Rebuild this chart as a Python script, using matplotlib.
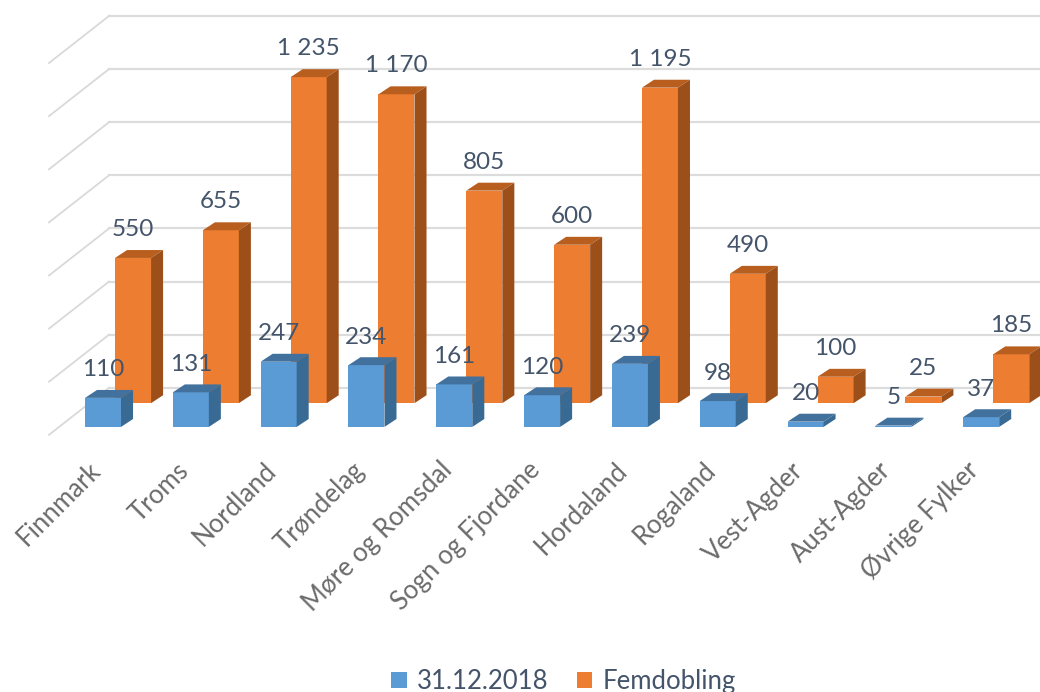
import numpy as np
import matplotlib
matplotlib.use("Agg")
import matplotlib.pyplot as plt

fylker = ["Finnmark", "Troms", "Nordland", "Trøndelag", "Møre og Romsdal", "Sogn og Fjordane",
          "Hordaland", "Rogaland", "Vest-Agder", "Aust-Agder", "Øvrige Fylker"]
dagens = [110, 131, 247, 234, 161, 120, 239, 98, 20, 5, 37]
femdobling = [550, 655, 1235, 1170, 805, 600, 1195, 490, 100, 25, 185]
grid_ticks = [0, 200, 400, 600, 800, 1000, 1200, 1400]

plt.rcParams['font.family'] = ['Lato', 'DejaVu Sans']
TEXT = '#44546a'
LABEL = '#6b6b6b'

fig = plt.figure(figsize=(10.4, 6.92), dpi=100)
ax = fig.add_axes([0, 0, 1, 1])
# axes fills the figure, x = category number, y = value
ax.set_xlim(-1.173, 10.67)
ax.set_ylim(-1004, 1617)
ax.axis('off')

width = 0.41
dx, dy = 0.137, 30          # depth of a bar
back_x, back_y = 0.342, 90  # second row sits behind the first
wall_x, wall_y = 0.068, 148 # back wall, left corner

def fmt(v):
    return f"{v:,}".replace(",", " ")

def draw_row(x, vals, base, front, top, side, zorder):
    bars = ax.bar(x, vals, width, bottom=base, color=front, zorder=zorder)
    for xi, v in zip(x, vals):
        l, r = xi - width / 2, xi + width / 2
        t = base + v
        ax.fill([l, r, r + dx, l + dx], [t, t, t + dy, t + dy], color=top, lw=0, zorder=zorder)
        ax.fill([r, r + dx, r + dx, r], [base, base + dy, t + dy, t], color=side, lw=0, zorder=zorder)
    return bars

# gridlines on wall + the diagonal bit on the side wall
for t in grid_ticks:
    y = wall_y + t * 1.006
    ax.plot([wall_x, 10.67], [y, y], color='#dcdcdc', lw=1.6, zorder=1)
    ax.plot([wall_x - 0.683, wall_x], [y - 178, y], color='#d9d9d9', lw=1.3, zorder=1)

x = np.arange(len(fylker))
b2 = draw_row(x + back_x, femdobling, back_y, '#ed7d31', '#b85f1f', '#9c4f19', 2)
b1 = draw_row(x, dagens, 0, '#5b9bd5', '#41719c', '#386a94', 3)

for xi, v in zip(x, dagens):
    ax.text(xi, v + 106, fmt(v), ha='center', va='center', fontsize=17.5, color=TEXT, zorder=5)
for xi, v in zip(x + back_x, femdobling):
    ax.text(xi, back_y + v + 108, fmt(v), ha='center', va='center', fontsize=17.5, color=TEXT, zorder=5)

for xi, name in zip(x, fylker):
    ax.text(xi - 0.07, -150, name, rotation=45, rotation_mode='anchor', ha='right', va='center',
            fontsize=18.5, color=LABEL)

leg = ax.legend([b1, b2], ["31.12.2018", "Femdobling"], loc='center', bbox_to_anchor=(0.542, 0.0155),
                ncol=2, frameon=False, fontsize=18.5, labelcolor=TEXT, handlelength=0.6, handleheight=0.6,
                handletextpad=0.4, columnspacing=1.1, borderpad=0)

plt.savefig('out.png', dpi=100)
